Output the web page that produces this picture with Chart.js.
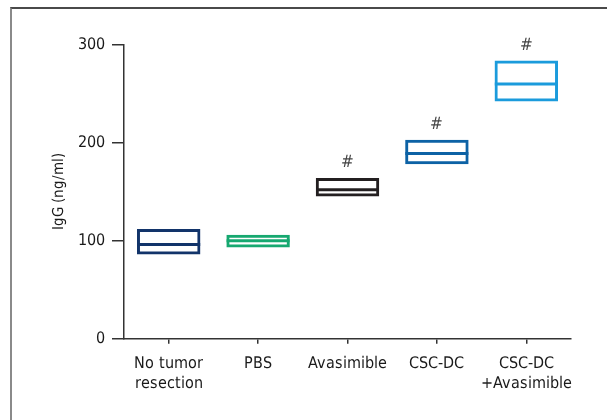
<!DOCTYPE html>
<html>
<head>
<meta charset="utf-8">
<script src="https://cdn.jsdelivr.net/npm/chart.js@4"></script>
<style>
  @font-face {
    font-family: "CondSans";
    src: local("Liberation Sans Narrow"), local("LiberationSansNarrow"),
         local("DejaVu Sans Condensed"), local("DejaVuSansCondensed");
  }
  body { margin: 0; background: #fff; }
  #wrap { position: relative; width: 607px; height: 420px; overflow: hidden; }
  #frame { position: absolute; left: 10px; top: 7px; width: 700px; height: 500px;
           border-left: 2px solid #8a8a8a; border-top: 2px solid #4a4a4a; }
  canvas { position: absolute; left: 0; top: 0; }
</style>
</head>
<body>
<div id="wrap">
  <div id="frame"></div>
  <canvas id="igg" width="607" height="420"></canvas>
</div>
<script>
// data
const groups = [["No tumor", "resection"], "PBS", "Avasimible", "CSC-DC", ["CSC-DC", "+Avasimible"]];
const low = [86, 93, 145, 178, 242];
const median = [96, 100, 152, 189, 260];
const high = [112, 106, 164, 203, 284];
const marks = ["", "", "#", "#", "#"];
const yTicks = [0, 100, 200, 300];
const boxColors = ["#12346a", "#16a870", "#231f20", "#0d62a5", "#1b9bdc"];

const FONT = 'CondSans, "Liberation Sans Narrow", "DejaVu Sans Condensed", sans-serif';

// draws the # above each box that has one
const hashPlugin = {
  id: "hashMarks",
  afterDatasetsDraw(chart) {
    const ctx = chart.ctx;
    const x = chart.scales.x;
    const y = chart.scales.y;
    ctx.save();
    ctx.fillStyle = "#444";
    ctx.font = "17px " + FONT;
    ctx.textAlign = "center";
    ctx.textBaseline = "middle";
    marks.forEach((m, i) => {
      if (!m) return;
      ctx.fillText(m, x.getPixelForValue(i), y.getPixelForValue(high[i]) - 15);
    });
    ctx.restore();
  }
};

function draw() {
  Chart.defaults.font.family = FONT;
  Chart.defaults.color = "#1a1a1a";
  new Chart(document.getElementById("igg"), {
    type: "bar",
    data: {
      labels: groups,
      datasets: [
        {
          type: "line",
          data: median,
          showLine: false,
          pointStyle: "line",
          pointRadius: 31.5,
          pointBorderWidth: 3,
          pointBorderColor: boxColors,
          pointBackgroundColor: boxColors,
          pointHoverRadius: 31.5,
        },
        {
          data: low.map((v, i) => [v, high[i]]),
          backgroundColor: "rgba(255,255,255,0)",
          borderColor: boxColors,
          borderWidth: 3,
          borderSkipped: false,
        },
      ],
    },
    options: {
      responsive: false,
      animation: false,
      grouped: false,
      categoryPercentage: 1,
      barPercentage: 0.71,
      layout: { padding: { top: 44.7, right: 36, left: 0, bottom: 0 } },
      plugins: { legend: { display: false }, tooltip: { enabled: false } },
      scales: {
        x: {
          offset: true,
          grid: { offset: false, drawOnChartArea: false, drawTicks: true, tickLength: 5, color: "#333", lineWidth: 1.5 },
          border: { display: true, color: "#333", width: 1.5 },
          ticks: { font: { size: 16 }, padding: 11, color: "#1a1a1a", maxRotation: 0, autoSkip: false },
          afterFit: (s) => { s.height = 81.3; },
        },
        y: {
          min: 0,
          max: 300,
          afterBuildTicks: (s) => { s.ticks = yTicks.map((v) => ({ value: v })); },
          grid: { drawOnChartArea: false, drawTicks: true, tickLength: 12, color: "#333", lineWidth: 1.5 },
          border: { display: true, color: "#333", width: 1.5 },
          ticks: { font: { size: 16 }, padding: 7, color: "#1a1a1a" },
          title: { display: true, text: "IgG (ng/ml)", font: { size: 15 }, color: "#1a1a1a", padding: { top: 50, bottom: 0 } },
          afterFit: (s) => { s.width = 124; },
        },
      },
    },
    plugins: [hashPlugin],
  });
}

document.fonts.load("16px CondSans").then(draw, draw);
</script>
</body>
</html>
